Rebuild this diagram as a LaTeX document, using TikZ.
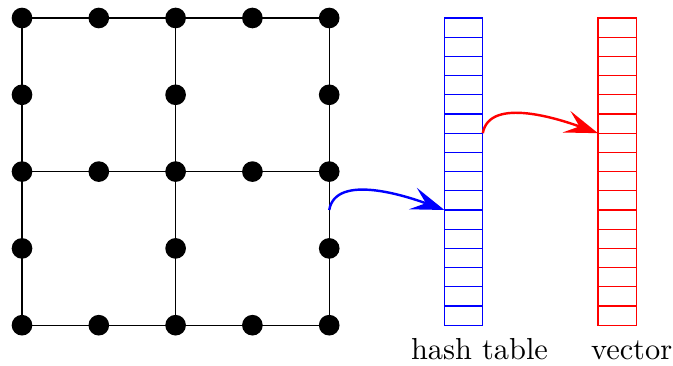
\documentclass[tikz,border=0pt]{standalone}
\usetikzlibrary{arrows.meta,calc}
\begin{document}
\begin{tikzpicture}[x=6.32pt,y=6.32pt,
  dot/.style={circle,fill=black,inner sep=0pt,minimum size=6.8pt},
  gridline/.style={draw=black,line width=0.4pt},
  column/.style={draw=#1,line width=0.4pt,inner sep=0pt,outer sep=0pt,
    minimum width=12.64pt,minimum height=101.12pt,anchor=south west},
  cellline/.style={draw=#1,line width=0.4pt},
  link/.style={draw=#1,line width=0.8pt,-{Stealth[length=11pt,width=7.5pt,inset=4.5pt]}},
  lbl/.style={anchor=base,inner sep=0pt}]
\useasboundingbox (-1.146,-2.083) rectangle (33.906,16.9375);
% grid lines
\foreach \v in {0,8,16} {
  \draw[gridline] (\v,0) -- (\v,16);
  \draw[gridline] (0,\v) -- (16,\v);
}
% dots
\foreach \i in {0,...,4} {
  \foreach \j in {0,2,4} {
    \node[dot] (d-\i-\j) at (4*\i,4*\j) {};
  }
}
\foreach \i in {0,2,4} {
  \foreach \j in {1,3} {
    \node[dot] (d-\i-\j) at (4*\i,4*\j) {};
  }
}
% hash table
\node[column=blue] (hash) at (22,0) {};
\foreach \k in {1,...,15} \draw[cellline=blue] (22,\k) -- (24,\k);
% vector
\node[column=red] (vec) at (30,0) {};
\foreach \k in {1,...,15} \draw[cellline=red] (30,\k) -- (32,\k);
% connectors
\coordinate (gridout) at (16,6);
\coordinate (hashin) at ($(hash.south west)+(0,6)$);
\coordinate (hashout) at ($(hash.south east)+(0,10)$);
\coordinate (vecin) at ($(vec.south west)+(0,10)$);
\draw[link=blue] (gridout) to[out=80,in=160,looseness=0.85] (hashin);
\draw[link=red] (hashout) to[out=80,in=160,looseness=0.85] (vecin);
% labels
\node[lbl] (lblhash) at (23.83,-1.77) {hash table};
\node[lbl] (lblvec) at (31.75,-1.77) {vector};
\end{tikzpicture}
\end{document}
